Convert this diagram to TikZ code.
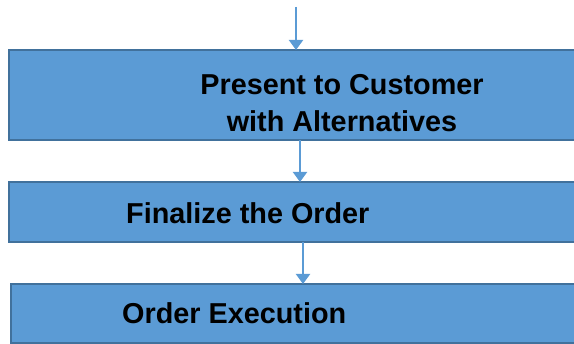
\documentclass[tikz,border=0pt]{standalone}
\usepackage{fontspec}
\setmainfont{Liberation Sans}
\usetikzlibrary{arrows.meta}
\definecolor{boxfill}{HTML}{5B9BD5}
\definecolor{boxline}{HTML}{41719C}
\begin{document}
\begin{tikzpicture}[x=1pt,y=1pt,
  stepbox/.style={draw=boxline,fill=boxfill,line width=2pt},
  txt/.style={font=\fontsize{28.8}{37}\selectfont\bfseries,text=black,inner sep=0pt},
  flow/.style={draw=boxfill,line width=2pt,-{Triangle[width=14pt,length=10pt]}}]
\useasboundingbox (0,0) rectangle (574,344);
\begin{scope}
\clip (0,0) rectangle (574,344);
\draw[stepbox] (9,204) rectangle (590,294);
\draw[stepbox] (9,102) rectangle (590,162);
\draw[stepbox] (11,1) rectangle (590,60);
\end{scope}
\coordinate (b1t) at (296,294);
\coordinate (b1b) at (300,204);
\coordinate (b2t) at (300,162);
\coordinate (b2b) at (303,102);
\coordinate (b3t) at (303,60);
\coordinate (start) at (296,337);
\node[txt,align=center] (t1) at (342,240.5) {Present to Customer\\with Alternatives};
\node[txt,anchor=west] (t2) at (126,131) {Finalize the Order};
\node[txt,anchor=west] (t3) at (122,31) {Order Execution};
\draw[flow] (start) -- (b1t);
\draw[flow] (b1b) -- (b2t);
\draw[flow] (b2b) -- (b3t);
\end{tikzpicture}
\end{document}
